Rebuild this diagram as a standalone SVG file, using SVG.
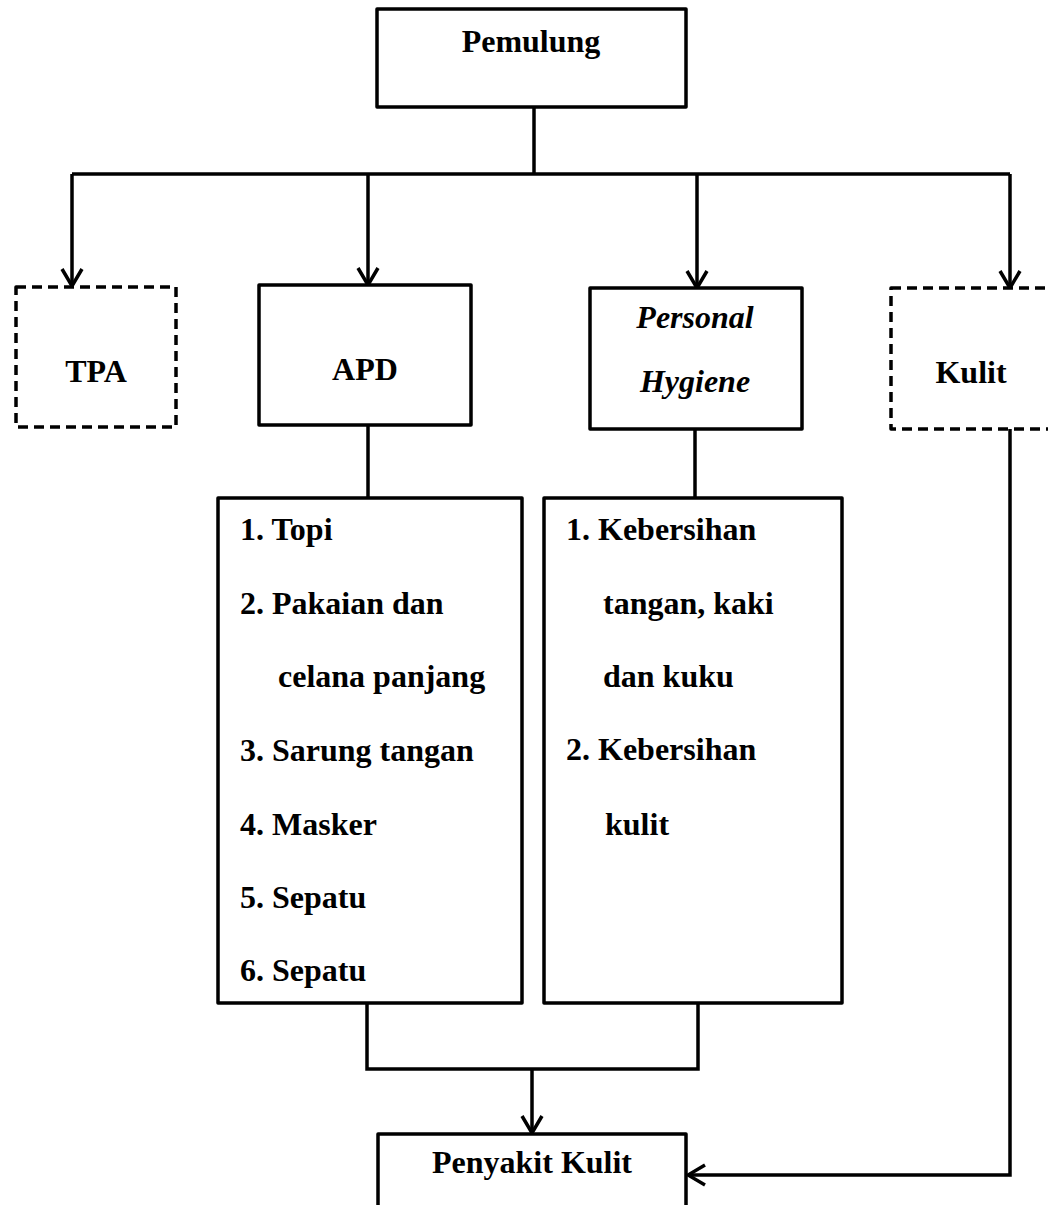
<svg xmlns="http://www.w3.org/2000/svg" width="1048" height="1205" viewBox="0 0 1048 1205">
<style>
.box{fill:#fff;stroke:#000;stroke-width:3.5;stroke-linejoin:round}
.dash{fill:#fff;stroke:#000;stroke-width:3.5;stroke-dasharray:10 6;stroke-linejoin:round}
.ln{fill:none;stroke:#000;stroke-width:3.5}
.t{font-family:"Liberation Serif","Times New Roman",serif;font-weight:bold;font-size:32px;fill:#000}
.c{text-anchor:middle}
.i{font-style:italic}
</style>
<defs>
<marker id="arr" viewBox="-20 -12 22 24" refX="0" refY="0" markerWidth="22" markerHeight="24" markerUnits="userSpaceOnUse" orient="auto">
<path d="M-17,-10 L0,0 L-17,10" fill="none" stroke="#000" stroke-width="3.5"/>
</marker>
</defs>
<g id="connectors">
<path class="ln" d="M534,107 V174"/>
<path class="ln" d="M72,174 H1010"/>
<path class="ln" d="M72,174 V286" marker-end="url(#arr)"/>
<path class="ln" d="M368,174 V285" marker-end="url(#arr)"/>
<path class="ln" d="M697,174 V288" marker-end="url(#arr)"/>
<path class="ln" d="M1010,174 V288" marker-end="url(#arr)"/>
<path class="ln" d="M368,425 V498"/>
<path class="ln" d="M695,429 V498"/>
<path class="ln" d="M367,1003 V1069 H698 V1003"/>
<path class="ln" d="M532,1069 V1133" marker-end="url(#arr)"/>
<path class="ln" d="M1010,429 V1175 H688" marker-end="url(#arr)"/>
</g>
<g id="pemulung">
<rect class="box" x="377" y="9" width="309" height="98"/>
<text class="t c" x="531" y="52">Pemulung</text>
</g>
<g id="tpa">
<rect class="dash" x="16" y="287" width="160" height="140"/>
<text class="t c" x="96" y="382">TPA</text>
</g>
<g id="apd">
<rect class="box" x="259" y="285" width="212" height="140"/>
<text class="t c" x="365" y="380">APD</text>
</g>
<g id="hygiene">
<rect class="box" x="590" y="288" width="212" height="141"/>
<text class="t c i" x="695" y="328">Personal</text>
<text class="t c i" x="695" y="392">Hygiene</text>
</g>
<g id="kulit">
<rect class="dash" x="891" y="288" width="164" height="141"/>
<text class="t c" x="971" y="383">Kulit</text>
</g>
<g id="apd-list">
<rect class="box" x="218" y="498" width="304" height="505"/>
<text class="t" x="240" y="540">1. Topi</text>
<text class="t" x="240" y="614">2. Pakaian dan</text>
<text class="t" x="278" y="687">celana panjang</text>
<text class="t" x="240" y="761">3. Sarung tangan</text>
<text class="t" x="240" y="835">4. Masker</text>
<text class="t" x="240" y="908">5. Sepatu</text>
<text class="t" x="240" y="981">6. Sepatu</text>
</g>
<g id="hygiene-list">
<rect class="box" x="544" y="498" width="298" height="505"/>
<text class="t" x="566" y="540">1. Kebersihan</text>
<text class="t" x="603" y="614">tangan, kaki</text>
<text class="t" x="603" y="687">dan kuku</text>
<text class="t" x="566" y="760">2. Kebersihan</text>
<text class="t" x="605" y="835">kulit</text>
</g>
<g id="penyakit">
<rect class="box" x="378" y="1134" width="308" height="100"/>
<text class="t c" x="532" y="1173">Penyakit Kulit</text>
</g>
</svg>
